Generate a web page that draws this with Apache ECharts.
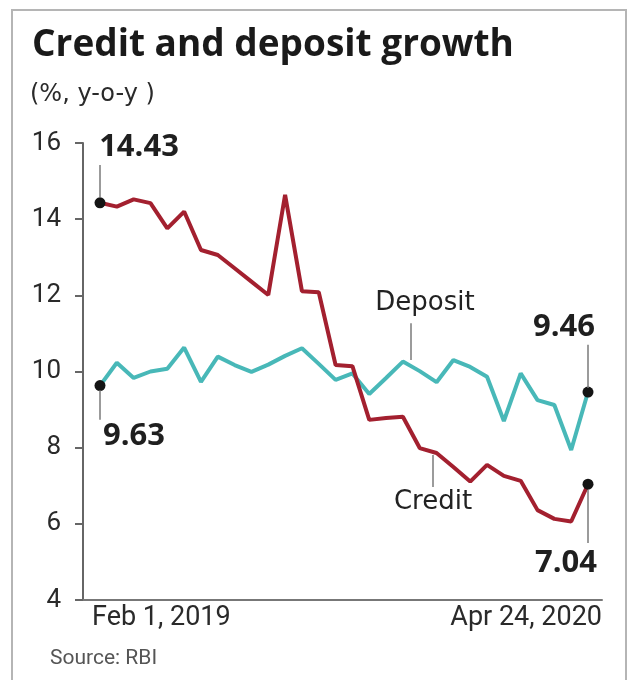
<!DOCTYPE html>
<html>
<head>
<meta charset="utf-8">
<script src="https://cdn.jsdelivr.net/npm/echarts@6/dist/echarts.min.js"></script>
<style>
  html, body { margin: 0; padding: 0; background: #fff; }
  #main { width: 638px; height: 680px; }
</style>
</head>
<body>
<div id="main"></div>
<script>
// end dates shown under the axis
const dateLabels = ['Feb 1, 2019', 'Apr 24, 2020'];
const yTicks = [4, 6, 8, 10, 12, 14, 16];
// fortnightly y-o-y growth, %
const credit = [14.43, 14.33, 14.52, 14.42, 13.76, 14.20, 13.19, 13.06, 12.71, 12.36,
                12.01, 14.64, 12.11, 12.08, 10.17, 10.14, 8.73, 8.78, 8.81, 7.99,
                7.86, 7.49, 7.11, 7.55, 7.26, 7.13, 6.36, 6.13, 6.06, 7.04];
const deposit = [9.63, 10.23, 9.83, 10.00, 10.07, 10.63, 9.73, 10.39, 10.17, 9.99,
                 10.18, 10.41, 10.61, 10.20, 9.78, 9.95, 9.41, 9.83, 10.26, 10.01,
                 9.72, 10.30, 10.12, 9.86, 8.70, 9.95, 9.25, 9.12, 7.94, 9.46];

const last = credit.length - 1;
const numFont = 'Open Sans';
const wordFont = 'DejaVu Sans';

let chart = echarts.init(document.getElementById('main'), null, { renderer: 'canvas' });

// leader line + text, in data coordinates
function leader(x, y0, y1, text, lab) {
    return [
        { coord: [x, y0] },
        {
            coord: [x, y1],
            label: Object.assign({
                show: true,
                position: 'end',
                formatter: text,
                color: '#1f1f1f',
                fontFamily: numFont,
                fontSize: 31,
                fontWeight: 'bold'
            }, lab)
        }
    ];
}

function endSymbol(v, p) {
    return (p.dataIndex === 0 || p.dataIndex === last) ? 11 : 0;
}

const markBase = {
    silent: true,
    symbol: ['none', 'none'],
    animation: false,
    lineStyle: { color: '#7a7a7a', width: 1.5, type: 'solid' }
};

let option = {
    backgroundColor: '#fff',
    animation: false,
    title: [
        {
            text: 'Credit and deposit growth',
            left: 27, top: 22,
            textStyle: { fontFamily: 'Open Sans', fontSize: 37, fontWeight: 'bold', color: '#1a1a1a' }
        },
        {
            text: '(%, y-o-y )',
            left: 25, top: 78,
            textStyle: { fontFamily: wordFont, fontSize: 24, fontWeight: 'normal', color: '#2a2a2a' }
        },
        {
            text: 'Source: RBI',
            left: 45, top: 643,
            textStyle: { fontFamily: 'Roboto', fontSize: 21, fontWeight: 'normal', color: '#555' }
        }
    ],
    graphic: [
        {
            type: 'rect',
            shape: { x: 12, y: 10, width: 614, height: 690 },
            style: { fill: 'none', stroke: '#b5b5b5', lineWidth: 2 },
            silent: true
        }
    ],
    grid: [
        { left: 100, right: 50, top: 143, bottom: 80 },   // data area
        { left: 83, right: 36, top: 143, bottom: 80 }     // axes frame
    ],
    xAxis: [
        { type: 'value', gridIndex: 0, min: 0, max: last, show: false },
        {
            type: 'category',
            gridIndex: 1,
            boundaryGap: false,
            data: dateLabels.map((d, i) => ({
                value: d,
                textStyle: i === 0 ? { align: 'left', padding: [0, 0, 0, 9] } : { align: 'right' }
            })),
            axisLine: { show: true, lineStyle: { color: '#777', width: 2 } },
            axisTick: { show: false },
            axisLabel: { fontFamily: 'Roboto', fontSize: 27, color: '#2a2a2a', margin: 5 },
            splitLine: { show: false }
        }
    ],
    yAxis: [
        { type: 'value', gridIndex: 0, min: 4, max: 16, show: false },
        {
            type: 'value',
            gridIndex: 1,
            min: yTicks[0],
            max: yTicks[yTicks.length - 1],
            interval: 2,
            axisLine: { show: true, lineStyle: { color: '#666', width: 2 } },
            axisTick: { show: true, length: 8, lineStyle: { color: '#666', width: 2 } },
            axisLabel: { fontFamily: 'Roboto', fontSize: 26, color: '#2a2a2a', margin: 22 },
            splitLine: { show: false }
        }
    ],
    series: [
        {
            name: 'Deposit',
            type: 'line',
            xAxisIndex: 0, yAxisIndex: 0,
            data: deposit.map((v, i) => [i, v]),
            symbol: 'circle',
            symbolSize: endSymbol,
            itemStyle: { color: '#141414' },
            lineStyle: { color: '#48b8b8', width: 4 },
            z: 2,
            markLine: Object.assign({}, markBase, {
                data: [
                    leader(0, 9.51, 8.73, deposit[0].toFixed(2), { offset: [34, 0], distance: 1 }),
                    leader(last, 9.57, 10.70, deposit[last].toFixed(2), { offset: [-24, 0], distance: 2 }),
                    leader(18.48, 10.30, 11.27, 'Deposit',
                        { offset: [14, 0], distance: 7, fontFamily: wordFont, fontWeight: 'normal', fontSize: 26, color: '#222' })
                ]
            })
        },
        {
            name: 'Credit',
            type: 'line',
            xAxisIndex: 0, yAxisIndex: 0,
            data: credit.map((v, i) => [i, v]),
            symbol: 'circle',
            symbolSize: endSymbol,
            itemStyle: { color: '#141414' },
            lineStyle: { color: '#a3202f', width: 4 },
            z: 3,
            markLine: Object.assign({}, markBase, {
                data: [
                    leader(0, 14.58, 15.42, credit[0].toFixed(2), { offset: [39, 0], distance: 2 }),
                    leader(last, 6.89, 5.50, credit[last].toFixed(2), { offset: [-22, 0], distance: 5 }),
                    leader(19.79, 7.81, 6.97, 'Credit',
                        { distance: 2, fontFamily: wordFont, fontWeight: 'normal', fontSize: 26, color: '#222' })
                ]
            })
        }
    ]
};

chart.setOption(option);
</script>
</body>
</html>
